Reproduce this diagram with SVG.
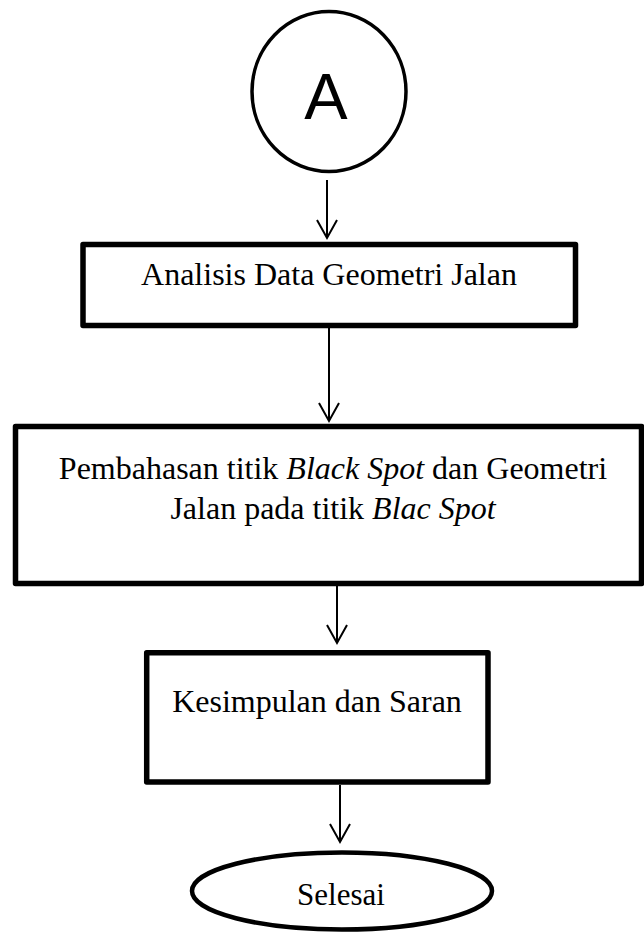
<svg xmlns="http://www.w3.org/2000/svg" width="644" height="934" viewBox="0 0 644 934">
<style>
.box{fill:#fff;stroke:#000;stroke-width:5.5;stroke-linejoin:round}
.t{font-family:"Liberation Serif","Times New Roman",serif;font-size:32px;fill:#000;text-anchor:middle}
.conn{stroke:#000;stroke-width:2;fill:none}
</style>
<rect width="644" height="934" fill="#fff"/>
<g id="conns">
<path class="conn" d="M327 180 L327 238"/>
<path class="conn" d="M329 328 L329 421"/>
<path class="conn" d="M337 586 L337 643"/>
<path class="conn" d="M340 785 L340 842"/>
<path class="conn" d="M317 220 L327 238 L337 220"/>
<path class="conn" d="M319 403 L329 421 L339 403"/>
<path class="conn" d="M327 625 L337 643 L347 625"/>
<path class="conn" d="M330 824 L340 842 L350 824"/>
</g>
<g id="nodeA">
<ellipse cx="329" cy="91.5" rx="77" ry="80" fill="#fff" stroke="#000" stroke-width="3.5"/>
<text x="326" y="119" style="font-family:'Liberation Sans',Arial,sans-serif;font-size:65px;text-anchor:middle">A</text>
</g>
<g id="analisis">
<rect class="box" x="83" y="244.5" width="492.5" height="81"/>
<text class="t" x="329" y="285">Analisis Data Geometri Jalan</text>
</g>
<g id="pembahasan">
<rect class="box" x="15.5" y="426.5" width="626" height="157"/>
<text class="t" x="333" y="479">Pembahasan titik <tspan font-style="italic">Black Spot</tspan> dan Geometri</text>
<text class="t" x="333" y="519">Jalan pada titik <tspan font-style="italic">Blac Spot</tspan></text>
</g>
<g id="kesimpulan">
<rect class="box" x="146.7" y="652.8" width="341.3" height="129.2"/>
<text class="t" x="317" y="712">Kesimpulan dan Saran</text>
</g>
<g id="selesai">
<ellipse cx="342" cy="891" rx="150" ry="38.5" fill="#fff" stroke="#000" stroke-width="4.5"/>
<text class="t" x="341" y="905" style="font-size:31px">Selesai</text>
</g>
</svg>
